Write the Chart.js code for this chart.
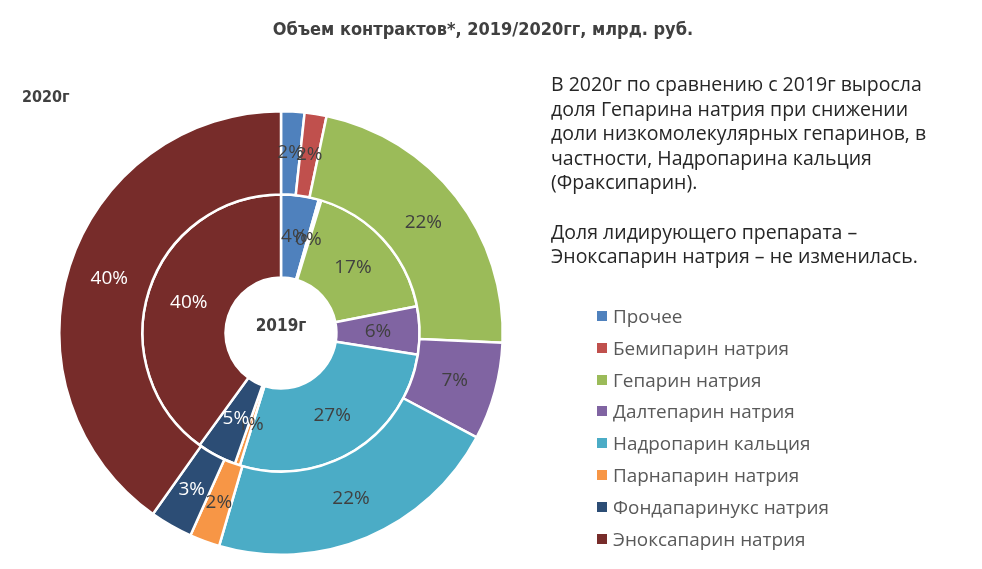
<!DOCTYPE html>
<html><head><meta charset="utf-8">
<script src="https://cdn.jsdelivr.net/npm/chart.js@4.4.1/dist/chart.umd.min.js"></script>
<style>
html,body{margin:0;padding:0;background:#fff;width:982px;height:569px;overflow:hidden;}
#wrap{position:relative;width:982px;height:569px;}
#c{position:absolute;left:0;top:0;}
.title{position:absolute;left:0;width:966px;top:18px;text-align:center;font-family:"Liberation Sans Narrow","DejaVu Sans Condensed",sans-serif;font-weight:bold;font-size:18px;color:#404040;}
.y2020{position:absolute;left:22px;top:87px;font-family:"Liberation Sans Narrow","DejaVu Sans Condensed",sans-serif;font-weight:bold;font-size:16px;color:#404040;}
.note{position:absolute;left:551px;top:72px;font-family:"Open Sans",sans-serif;font-size:19.5px;line-height:24.6px;color:#262626;white-space:nowrap;}
.legend{position:absolute;left:597px;top:302px;font-family:"Open Sans",sans-serif;font-size:18.9px;color:#595959;}
.legend div{height:31.8px;line-height:28px;white-space:nowrap;}
.legend span.sw{display:inline-block;width:10px;height:10px;margin-right:6px;vertical-align:2px;}
</style></head>
<body><div id="wrap">
<canvas id="c" width="982" height="569"></canvas>
<div class="title">Объем контрактов*, 2019/2020гг, млрд. руб.</div>
<div class="y2020">2020г</div>
<div class="note">В 2020г по сравнению с 2019г выросла<br>доля Гепарина натрия при снижении<br>доли низкомолекулярных гепаринов, в<br>частности, Надропарина кальция<br>(Фраксипарин).<br><br>Доля лидирующего препарата –<br>Эноксапарин натрия – не изменилась.</div>
<div class="legend" id="legend"></div>
</div>
<script>
const categories = ["Прочее","Бемипарин натрия","Гепарин натрия","Далтепарин натрия","Надропарин кальция","Парнапарин натрия","Фондапаринукс натрия","Эноксапарин натрия"];
const values2020 = [1.7, 1.6, 22.4, 7.1, 21.7, 2.2, 3.1, 40.2];
const values2019 = [4.4, 0.3, 17.2, 5.6, 27.3, 0.6, 4.6, 40.0];
const colors = ["#4F81BD","#C0504D","#9BBB59","#8064A2","#4BACC6","#F79646","#2C4D75","#772C2A"];
const labelColors = ["#404040","#404040","#404040","#404040","#404040","#404040","#FFFFFF","#FFFFFF"];
const centerLabel = "2019г";

const leg = document.getElementById('legend');
categories.forEach((c,i)=>{
  const d=document.createElement('div');
  d.innerHTML='<span class="sw" style="background:'+colors[i]+'"></span>'+c;
  leg.appendChild(d);
});

const labelPlugin = {
  id:'pctLabels',
  afterDatasetsDraw(chart){
    const ctx=chart.ctx;
    ctx.save();
    ctx.font='19px "Open Sans", sans-serif';
    ctx.textAlign='center';ctx.textBaseline='middle';
    chart.data.datasets.forEach((ds,di)=>{
      const meta=chart.getDatasetMeta(di);
      meta.data.forEach((arc,i)=>{
        const p=arc.tooltipPosition();
        ctx.fillStyle=labelColors[i];
        ctx.fillText(Math.round(ds.data[i])+'%',p.x,p.y);
      });
    });
    const a=chart.getDatasetMeta(0).data[0];
    ctx.font='bold 17px "Liberation Sans Narrow","DejaVu Sans Condensed", sans-serif';
    ctx.fillStyle='#404040';
    ctx.fillText(centerLabel,a.x,a.y-6);
    ctx.restore();
  }
};

new Chart(document.getElementById('c'),{
  type:'doughnut',
  data:{labels:categories,datasets:[
    {label:'2020г',data:values2020,backgroundColor:colors,borderColor:'#fff',borderWidth:2.5},
    {label:'2019г',data:values2019,backgroundColor:colors,borderColor:'#fff',borderWidth:2.5}
  ]},
  options:{
    responsive:false,animation:false,
    cutout:'25%',
    layout:{padding:{left:58,top:110,right:478,bottom:13}},
    plugins:{legend:{display:false},tooltip:{enabled:false},title:{display:false}}
  },
  plugins:[labelPlugin]
});
</script>
</body></html>
